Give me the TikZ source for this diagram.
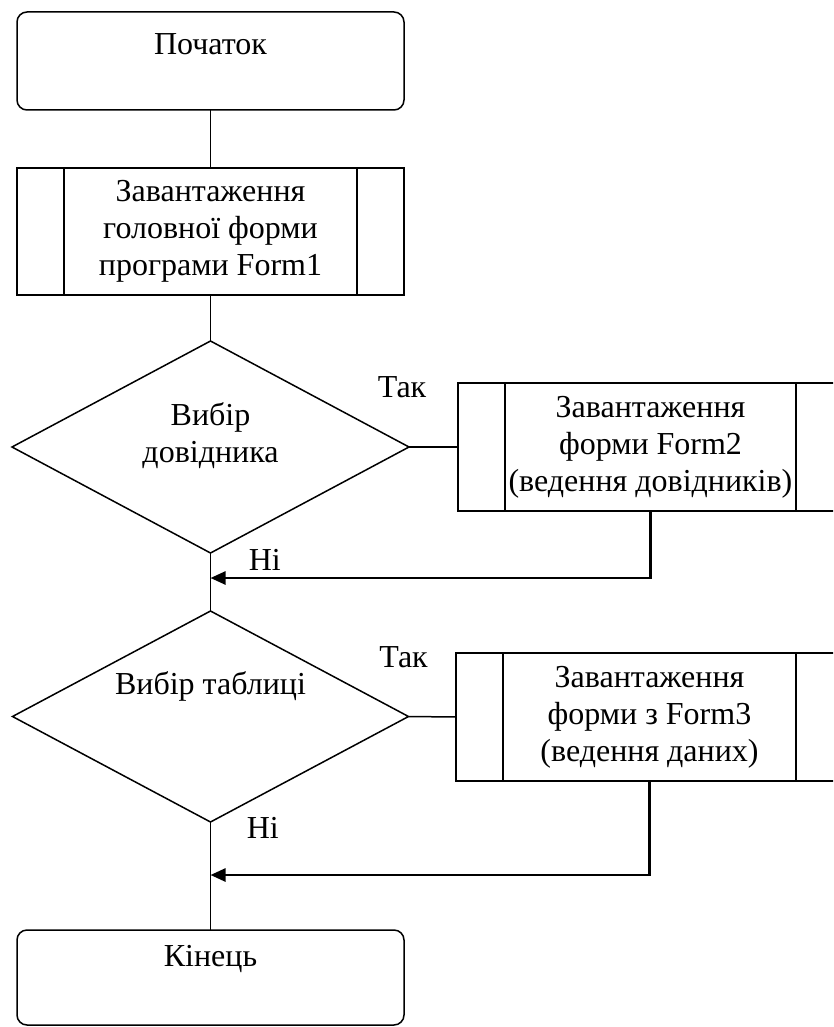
\documentclass[tikz,border=0pt]{standalone}
\usepackage{fontspec}
\setmainfont{Liberation Serif}
\usetikzlibrary{arrows.meta,calc,shapes.geometric}
\newcommand{\myfs}{\fontsize{32pt}{37pt}\selectfont}
\tikzset{
  base/.style={draw, line width=1.5pt, outer sep=0pt},
  term/.style={base, rounded corners=10pt, minimum width=387pt, inner sep=0pt},
  proc/.style={base, minimum width=387pt, minimum height=127pt, align=center, inner sep=0pt, font=\myfs},
  decision/.style={base, diamond, minimum width=397pt, minimum height=212pt, inner sep=0pt},
  txt/.style={font=\myfs, align=center, inner sep=0pt},
  flow/.style={line width=1.5pt},
  ret/.style={line width=2.5pt, -{Triangle[length=15pt,width=13pt]}},
  tag/.style={font=\myfs, inner sep=0pt, anchor=base west},
}
\begin{document}
\begin{tikzpicture}[x=1pt,y=-1pt]
\useasboundingbox (0,0) rectangle (833,1027);
\clip (0,0) rectangle (833,1027);
\fill[white] (0,0) rectangle (833,1027);

\node[term, minimum height=98pt, label={[txt, yshift=16.5pt]center:Початок}] (start) at (210.5,61) {};
\node[proc] (b1) at (210.5,231.5) {Завантаження\\головної форми\\програми Form1};
\node[decision, label={[txt, yshift=11pt]center:Вибір\\довідника}] (d1) at (210.5,447) {};
\node[proc, minimum width=385pt, minimum height=128pt] (b2) at (650.5,447) {Завантаження\\форми Form2\\(ведення довідників)};
\node[decision, minimum width=396pt, minimum height=211pt, label={[txt, yshift=30.5pt]center:Вибір таблиці}] (d2) at (210.5,716.5) {};
\node[proc, minimum height=128pt] (b3) at (649.5,717) {Завантаження\\форми з Form3\\(ведення даних)};
\node[term, minimum height=95pt, label={[txt, yshift=18.5pt]center:Кінець}] (end) at (210.5,977.5) {};

\foreach \n in {b1,b2,b3} {
  \draw[base] ($(\n.north west)+(47,0)$) -- ($(\n.south west)+(47,0)$);
  \draw[base] ($(\n.north east)+(-47,0)$) -- ($(\n.south east)+(-47,0)$);
}

\coordinate (m1) at (210.5,578);
\coordinate (m2) at (210.5,875);

\draw[flow] (start) -- (b1);
\draw[flow] (b1) -- (d1);
\draw[flow] (d1.east) -- (b2.west) node[tag, pos=0, xshift=-32pt, yshift=50pt] {Так};
\draw[flow] (d1.south) -- (d2.north);
\draw[ret] (b2.south) |- (m1) node[tag, pos=1, xshift=37pt, yshift=8pt] {Ні};
\draw[flow] (d2.east) -- (b3.west) node[tag, pos=0, xshift=-30pt, yshift=49pt] {Так};
\draw[flow] (d2.south) -- (end.north);
\draw[ret] (b3.south) |- (m2) node[tag, pos=1, xshift=35pt, yshift=37pt] {Ні};
\end{tikzpicture}
\end{document}
